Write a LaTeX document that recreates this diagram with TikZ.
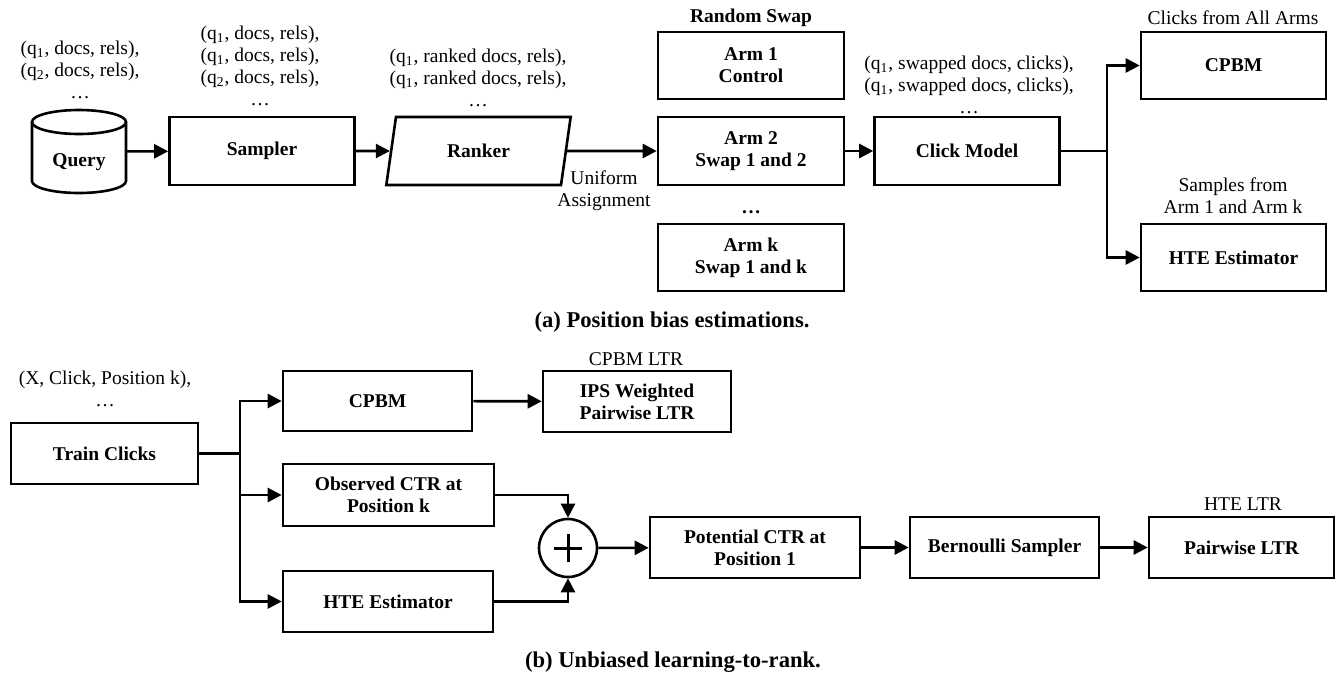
\documentclass[tikz,border=0pt]{standalone}
\usepackage{fontspec}
\setmainfont{Liberation Serif}
\usetikzlibrary{arrows.meta,shapes.geometric}

\begin{document}
\begin{tikzpicture}[x=0.5pt, y=-0.5pt,
    every node/.style={font=\fontsize{9.75}{11}\selectfont, align=center, inner sep=0pt},
    blk/.style={draw, line width=1.3pt, font=\fontsize{9.75}{11}\selectfont\bfseries,
        minimum width=92.5pt, minimum height=34pt},
    conn/.style={line width=1.3pt},
    arr/.style={line width=1.3pt, -{Triangle[length=7pt,width=7pt]}},
    captxt/.style={font=\fontsize{11.3}{13}\selectfont\bfseries}]
    \useasboundingbox (0,0) rectangle (1337,675);

    % (a) position bias estimation
    \node[minimum width=47pt, minimum height=41.5pt] (query) at (79,151.5) {};
    % the query store, drawn as a cylinder
    \draw[line width=1.3pt] (79,122) ellipse [x radius=47, y radius=12];
    \draw[line width=1.3pt] (32,122) -- (32,181) arc[start angle=180, end angle=0,
        x radius=47, y radius=12] -- (126,122);
    \node[font=\fontsize{9.75}{11}\selectfont\bfseries] (querytxt) at (79,162) {Query};
    \node[blk] (sampler) at (262,151) {Sampler};
    \node[blk, trapezium, trapezium left angle=75, trapezium right angle=105,
        trapezium stretches=true] (ranker) at (478.5,151) {Ranker};
    \node[blk, minimum width=93pt, minimum height=33.5pt] (arm1) at (751,65.5) {Arm 1\\Control};
    \node[blk, minimum width=93pt] (arm2) at (751,151) {Arm 2\\Swap 1 and 2};
    \node[blk, minimum width=93pt, minimum height=33.5pt] (armk) at (751,257.5) {Arm k\\Swap 1 and k};
    \node[blk] (click) at (967,151) {Click Model};
    \node[blk, minimum height=33.5pt] (cpbm) at (1233.5,65.5) {CPBM};
    \node[blk, minimum height=33.5pt] (hte) at (1233.5,257.5) {HTE Estimator};

    % data above the blocks
    \node (qdata) at (80,70) {(q\textsubscript{1}, docs, rels),\\(q\textsubscript{2}, docs, rels),\\…};
    \node (sdata) at (260,66) {(q\textsubscript{1}, docs, rels),\\(q\textsubscript{1}, docs, rels),\\(q\textsubscript{2}, docs, rels),\\…};
    \node (rdata) at (478,78) {(q\textsubscript{1}, ranked docs, rels),\\(q\textsubscript{1}, ranked docs, rels),\\…};
    \node (cdata) at (969,85) {(q\textsubscript{1}, swapped docs, clicks),\\(q\textsubscript{1}, swapped docs, clicks),\\…};
    \node (uniform) at (604,190.5) {Uniform\\Assignment};
    \node[font=\fontsize{9.75}{11}\selectfont\bfseries] (swap) at (751,18) {Random Swap};
    \node[font=\fontsize{9.75}{11}\selectfont\bfseries] (armdots) at (751,212) {…};
    \node (allarms) at (1233,18) {Clicks from All Arms};
    \node (samples) at (1233,195.5) {Samples from\\Arm 1 and Arm k};

    \draw[arr] (query) -- (sampler);
    \draw[arr] (sampler) -- (ranker);
    \draw[arr] (ranker.east) -- (arm2.west);
    \draw[arr] (arm2) -- (click);
    \coordinate (forka) at (1107,151);
    \draw[conn] (click.east) -- (forka);
    \draw[arr] (forka) |- (cpbm.west);
    \draw[arr] (forka) |- (hte.west);

    \node[captxt] (capa) at (672,322) {(a) Position bias estimations.};

    % (b) unbiased learning-to-rank
    \node (xdata) at (105,389) {(X, Click, Position k),\\…};
    \node[blk, minimum width=93.5pt, minimum height=30.5pt] (train) at (104.5,453.5) {Train Clicks};
    \node[blk, minimum width=94.5pt, minimum height=30pt] (cpbmb) at (377.5,401) {CPBM};
    \node[blk, minimum width=105.5pt, minimum height=31pt] (obs) at (388.5,495) {Observed CTR at\\Position k};
    \node[blk, minimum width=105pt, minimum height=30.5pt] (hteb) at (388,601.5) {HTE Estimator};
    \node[blk, minimum width=94pt, minimum height=30.5pt] (ips) at (637,401.5) {IPS Weighted\\Pairwise LTR};
    \node[draw, circle, line width=1.3pt, minimum size=29pt] (plus) at (568,548) {};
    \node[blk, minimum width=105pt, minimum height=30.5pt] (pot) at (755,547.5) {Potential CTR at\\Position 1};
    \node[blk, minimum width=94.5pt, minimum height=30.5pt] (bern) at (1004.5,547.5) {Bernoulli Sampler};
    \node[blk, minimum width=92.5pt, minimum height=30.5pt] (pair) at (1241.5,547.5) {Pairwise LTR};
    \node (cpbmltr) at (636,359) {CPBM LTR};
    \node (hteltr) at (1243,504) {HTE LTR};

    % plus sign
    \draw[line width=1.5pt] ([xshift=-7pt]plus.center) -- ([xshift=7pt]plus.center);
    \draw[line width=1.5pt] ([yshift=-7pt]plus.center) -- ([yshift=7pt]plus.center);

    \coordinate (forkb) at (240,453.5);
    \draw[conn] (train.east) -- (forkb);
    \draw[arr] (forkb) |- (cpbmb.west);
    \draw[arr] (forkb) |- (obs.west);
    \draw[arr] (forkb) |- (hteb.west);
    \draw[arr] (cpbmb) -- (ips);
    \draw[arr] (obs.east) -| (plus.north);
    \draw[arr] (hteb.east) -| (plus.south);
    \draw[arr] (plus) -- (pot);
    \draw[arr] (pot) -- (bern);
    \draw[arr] (bern) -- (pair);

    \node[captxt] (capb) at (673,662) {(b) Unbiased learning-to-rank.};
\end{tikzpicture}
\end{document}
